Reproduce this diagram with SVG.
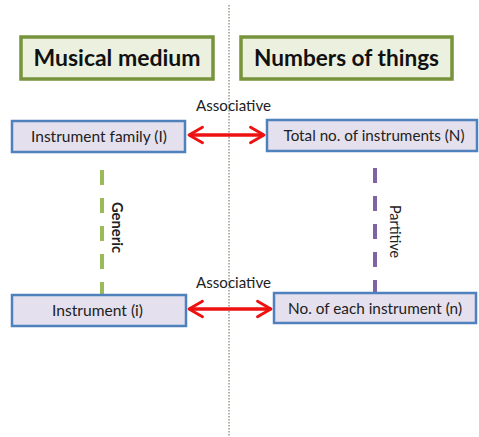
<svg xmlns="http://www.w3.org/2000/svg" width="479" height="437" viewBox="0 0 479 437">
<style>
.hdr rect{fill:#ebf1de;stroke:#77933c;stroke-width:3.5}
.hdr text{font-family:Lato,"Liberation Sans",sans-serif;font-weight:bold;font-size:23px;fill:#111;text-anchor:middle}
.nd rect{fill:#e5e0ee;stroke:#4f81bd;stroke-width:2.5}
.nd text{font-family:Lato,"Liberation Sans",sans-serif;font-size:15px;fill:#222;text-anchor:middle}
.lbl{font-family:Lato,"Liberation Sans",sans-serif;font-size:15px;fill:#222;text-anchor:middle}
.assoc{stroke:#ee1111;stroke-width:3.5;fill:none}
</style>
<defs>
<marker id="ah" viewBox="0 0 10 10" refX="9" refY="5" markerWidth="5.5" markerHeight="5.5" orient="auto-start-reverse" markerUnits="strokeWidth">
<path d="M2,1 L9,5 L2,9" fill="none" stroke="#ee1111" stroke-width="1.5" stroke-linecap="round" stroke-linejoin="round"/>
</marker>
</defs>
<line x1="229" y1="5" x2="229" y2="437" stroke="#9a9a8a" stroke-width="1.5" stroke-dasharray="1.5,1.5"/>
<g id="hdr-musical" class="hdr"><rect x="21" y="37" width="192" height="42"/><text x="117" y="66" textLength="167" lengthAdjust="spacingAndGlyphs">Musical medium</text></g>
<g id="hdr-numbers" class="hdr"><rect x="241" y="37" width="211" height="42"/><text x="346.5" y="66" textLength="185" lengthAdjust="spacingAndGlyphs">Numbers of things</text></g>
<g id="connectors">
<line class="assoc" x1="189" y1="135" x2="264" y2="135" marker-start="url(#ah)" marker-end="url(#ah)"/>
<line class="assoc" x1="189" y1="309" x2="271" y2="309" marker-start="url(#ah)" marker-end="url(#ah)"/>
<line x1="102" y1="170" x2="102" y2="294" stroke="#9bbb59" stroke-width="4" stroke-dasharray="15,13"/>
<line x1="375" y1="168" x2="375" y2="294" stroke="#8064a2" stroke-width="4" stroke-dasharray="15,13"/>
<text class="lbl" x="233.5" y="111" textLength="75" lengthAdjust="spacingAndGlyphs">Associative</text>
<text class="lbl" x="233.5" y="288" textLength="75" lengthAdjust="spacingAndGlyphs">Associative</text>
<text class="lbl" font-weight="bold" transform="translate(112,227.5) rotate(90)" textLength="51" lengthAdjust="spacingAndGlyphs">Generic</text>
<text class="lbl" transform="translate(390,231.5) rotate(90)" textLength="53" lengthAdjust="spacingAndGlyphs">Partitive</text>
</g>
<g id="n-family" class="nd"><rect x="12" y="121" width="173" height="31"/><text x="99" y="141.5" textLength="136" lengthAdjust="spacingAndGlyphs">Instrument  family (I)</text></g>
<g id="n-total" class="nd"><rect x="267" y="120" width="210" height="31"/><text x="374" y="141" textLength="181" lengthAdjust="spacingAndGlyphs">Total no. of instruments (N)</text></g>
<g id="n-instr" class="nd"><rect x="12" y="295" width="174" height="31"/><text x="97.5" y="316" textLength="91" lengthAdjust="spacingAndGlyphs">Instrument  (i)</text></g>
<g id="n-each" class="nd"><rect x="274" y="293" width="202" height="30"/><text x="375" y="313.5" textLength="174" lengthAdjust="spacingAndGlyphs">No. of each instrument (n)</text></g>
</svg>
